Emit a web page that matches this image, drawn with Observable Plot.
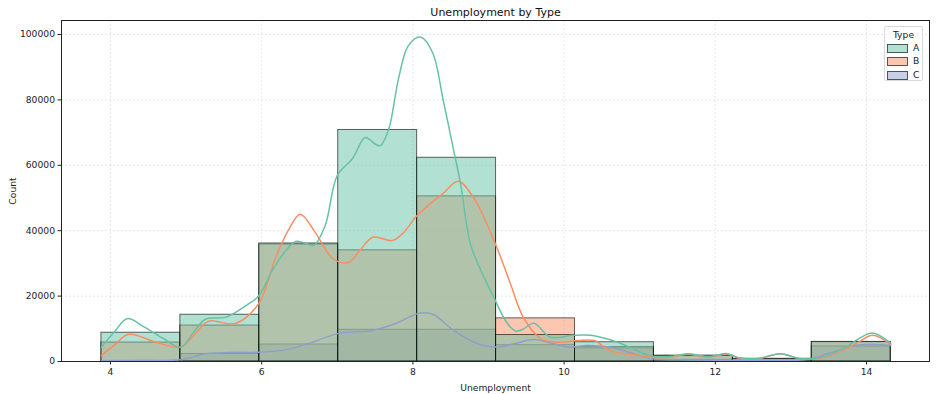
<!DOCTYPE html>
<html>
<head>
<meta charset="utf-8">
<script src="https://cdn.jsdelivr.net/npm/d3@7"></script>
<script src="https://cdn.jsdelivr.net/npm/@observablehq/plot@0.6"></script>
<style>
  body { margin: 0; background: #fff; font-family: "DejaVu Sans", sans-serif; }
  #wrap { position: relative; width: 936px; height: 394px; }
  #legend { position: absolute; left: 884px; top: 26px; width: 39px; height: 55px;
    border: 1px solid #d9d9d9; border-radius: 2px; background: rgba(255,255,255,0.8);
    font-size: 9.2px; color: #222; box-sizing: border-box; }
  #legend .title { position: absolute; left: 0; width: 100%; top: 2px; text-align: center; }
  #legend .row { position: absolute; left: 2px; height: 10px; }
  #legend .sw { position: absolute; left: 0; top: 1px; width: 19px; height: 7px; border: 1px solid rgba(0,0,0,0.6); }
  #legend .lb { position: absolute; left: 26px; top: -1px; }
</style>
</head>
<body>
<div id="wrap"></div>
<script>
// ---- data ----
const types = ["A", "B", "C"];
const typeColors = ["#66c2a5", "#fc8d62", "#8da0cb"];
const binEdges = [3.88, 4.924, 5.968, 7.012, 8.056, 9.1, 10.144, 11.188, 12.232, 13.276, 14.32];
const countsA = [8800, 14300, 36100, 70800, 62300, 8100, 5900, 1800, 800, 6000];
const countsB = [5800, 11000, 35800, 34000, 50500, 13200, 4400, 1700, 800, 5900];
const countsC = [200, 2300, 5200, 9700, 9700, 5000, 4000, 500, 300, 4600];

const kdeAx = [3.88, 4.05, 4.22, 4.45, 4.7, 4.93, 5.1, 5.26, 5.52, 5.83, 5.96, 6.18, 6.45, 6.6, 6.69, 6.84, 7.0, 7.2, 7.37, 7.5, 7.57, 7.68, 7.81, 7.94, 8.1, 8.26, 8.4, 8.54, 8.63, 8.76, 8.9, 9.07, 9.25, 9.36, 9.45, 9.6, 9.82, 10.12, 10.35, 10.6, 10.75, 11.14, 11.4, 11.63, 11.9, 12.16, 12.3, 12.56, 12.86, 13.13, 13.39, 13.7, 13.9, 14.08, 14.32];
const kdeAy = [4400, 9000, 13100, 10500, 7000, 4400, 9000, 13000, 13500, 17700, 20000, 29400, 36700, 36000, 35500, 41600, 56900, 62000, 68500, 66500, 66000, 71000, 86500, 96600, 99200, 94500, 80000, 64500, 54400, 36000, 27800, 19600, 11600, 9300, 9800, 11700, 7400, 8000, 8000, 6700, 5500, 1800, 1500, 2400, 1500, 2400, 1200, 900, 2400, 900, 1200, 4000, 7000, 8700, 5600];

const kdeBx = [3.88, 4.05, 4.24, 4.6, 4.93, 5.1, 5.3, 5.65, 5.96, 6.18, 6.35, 6.51, 6.71, 6.94, 7.15, 7.3, 7.47, 7.73, 7.9, 8.03, 8.23, 8.4, 8.6, 8.8, 9.09, 9.29, 9.46, 9.69, 9.91, 10.18, 10.4, 10.6, 11.0, 11.14, 11.4, 11.63, 11.9, 12.16, 12.3, 12.56, 12.86, 13.13, 13.39, 13.7, 13.9, 14.08, 14.32];
const kdeBy = [1800, 5000, 8300, 5900, 4400, 8000, 12300, 11600, 17700, 31500, 40000, 45000, 39400, 31500, 30300, 34000, 38000, 37000, 40000, 44000, 48300, 51400, 55100, 50200, 36000, 23800, 13500, 7000, 5900, 6400, 6400, 3400, 1800, 1300, 1300, 2200, 1300, 2200, 1100, 800, 2400, 800, 1000, 3500, 6000, 8000, 5200];

const kdeCx = [3.88, 4.4, 4.93, 5.26, 5.65, 5.92, 6.28, 6.62, 7.02, 7.47, 7.77, 8.07, 8.2, 8.3, 8.54, 8.85, 9.12, 9.35, 9.6, 9.85, 10.08, 10.3, 10.6, 10.9, 11.14, 11.5, 12.5, 13.2, 13.5, 13.83, 14.1, 14.32];
const kdeCy = [200, 300, 500, 2400, 2800, 2800, 3400, 5500, 8600, 9500, 11600, 14700, 14800, 14000, 9500, 5500, 4400, 5500, 6700, 5500, 4400, 4900, 4400, 2500, 900, 500, 400, 600, 2500, 4900, 5200, 4900];

const xTicks = [4, 6, 8, 10, 12, 14];
const yTicks = [0, 20000, 40000, 60000, 80000, 100000];

// ---- build tables (drawn C, B, A so A lies on top, as in the original) ----
const countsByType = [countsA, countsB, countsC];
const bars = [];
[2, 1, 0].forEach(i => {
  countsByType[i].forEach((c, j) => bars.push({type: types[i], x1: binEdges[j], x2: binEdges[j + 1], y1: 0, y2: c}));
});
const kdeXs = [kdeAx, kdeBx, kdeCx];
const kdeYs = [kdeAy, kdeBy, kdeCy];
const kdes = [];
[2, 1, 0].forEach(i => {
  kdeXs[i].forEach((x, j) => kdes.push({type: types[i], x, y: kdeYs[i][j]}));
});

const chart = Plot.plot({
  width: 936,
  height: 394,
  marginLeft: 61,
  marginRight: 7,
  marginTop: 20,
  marginBottom: 33,
  style: {fontFamily: "DejaVu Sans, sans-serif", fontSize: "9.2px", color: "#222", background: "#fff"},
  x: {domain: [3.352, 14.833]},
  y: {domain: [0, 104280]},
  color: {domain: types, range: typeColors},
  marks: [
    Plot.gridX(xTicks, {stroke: "#b0b0b0", strokeOpacity: 0.3, strokeDasharray: "2,2"}),
    Plot.gridY(yTicks, {stroke: "#b0b0b0", strokeOpacity: 0.3, strokeDasharray: "2,2"}),
    Plot.rect(bars, {x1: "x1", x2: "x2", y1: "y1", y2: "y2", fill: "type", fillOpacity: 0.5, stroke: "black", strokeOpacity: 0.6, strokeWidth: 1}),
    Plot.line(kdes, {x: "x", y: "y", z: "type", stroke: "type", strokeWidth: 1.5, curve: "catmull-rom"}),
    Plot.frame({stroke: "#222", strokeWidth: 1}),
    Plot.axisX({ticks: xTicks, tickSize: 3.5, tickFormat: d => String(d), label: "Unemployment", labelAnchor: "center", labelArrow: "none", labelOffset: 29, tickPadding: 3}),
    Plot.axisY({ticks: yTicks, tickSize: 3.5, tickFormat: d => String(d), label: "Count", labelAnchor: "center", labelArrow: "none", labelOffset: 52, tickPadding: 3}),
    Plot.text(["Unemployment by Type"], {frameAnchor: "top", dy: -12, fontSize: 11, fill: "#111"})
  ]
});
document.getElementById("wrap").appendChild(chart);

// legend
const leg = document.createElement("div");
leg.id = "legend";
leg.innerHTML = `<div class="title">Type</div>` + types.map((t, i) =>
  `<div class="row" style="top:${16 + i * 13.3}px"><div class="sw" style="background:${typeColors[i]}80"></div><div class="lb">${t}</div></div>`).join("");
document.getElementById("wrap").appendChild(leg);
</script>
</body>
</html>
